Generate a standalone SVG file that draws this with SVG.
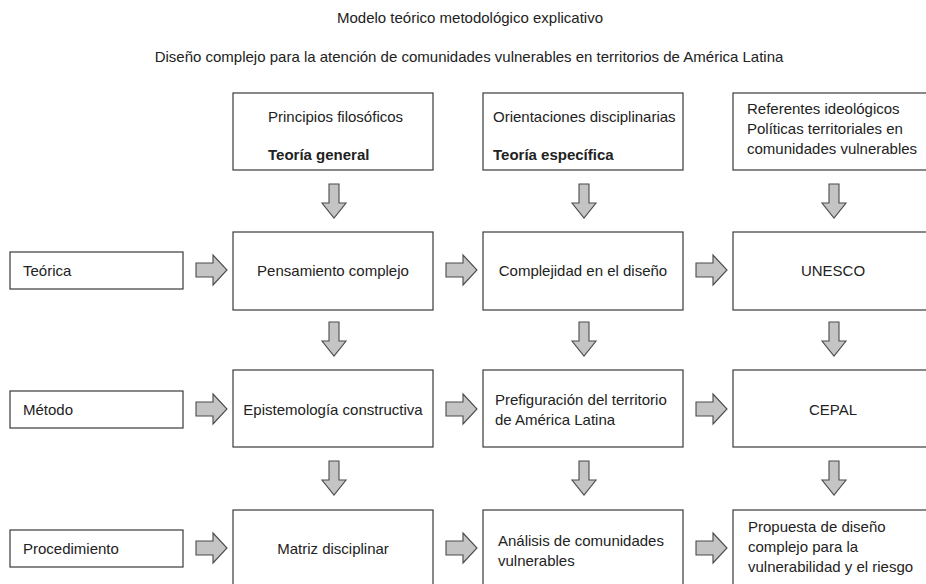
<svg xmlns="http://www.w3.org/2000/svg" width="926" height="584" viewBox="0 0 926 584">
<defs>
<style>
.box{fill:#fff;stroke:#3a3a3a;stroke-width:1.2}
.arr{fill:#c4c4c4;stroke:#4a4a4a;stroke-width:1.1;stroke-linejoin:miter}
text{font-family:"Liberation Sans",Arial,sans-serif;font-size:15px;fill:#222}
.c{text-anchor:middle}
.b{font-weight:bold}
</style>
<path id="down" d="M-5,0 H5 V19 H12 L0,34 L-12,19 H-5 Z"/>
<path id="right" d="M0,-7 H17 V-15 L31,0 L17,15 V7 H0 Z"/>
</defs>
<rect width="926" height="584" fill="#fff"/>
<g id="titles">
<text class="c" x="470" y="23">Modelo teórico metodológico explicativo</text>
<text class="c" x="469" y="62">Diseño complejo para la atención de comunidades vulnerables en territorios de América Latina</text>
</g>
<g id="connectors">
<use href="#down" class="arr" x="334" y="184"/>
<use href="#down" class="arr" x="584" y="184"/>
<use href="#down" class="arr" x="834" y="184"/>
<use href="#down" class="arr" x="334" y="322"/>
<use href="#down" class="arr" x="584" y="322"/>
<use href="#down" class="arr" x="834" y="322"/>
<use href="#down" class="arr" x="334" y="461"/>
<use href="#down" class="arr" x="584" y="461"/>
<use href="#down" class="arr" x="834" y="461"/>
<use href="#right" class="arr" x="196" y="270"/>
<use href="#right" class="arr" x="446" y="270"/>
<use href="#right" class="arr" x="696" y="270"/>
<use href="#right" class="arr" x="196" y="409"/>
<use href="#right" class="arr" x="446" y="409"/>
<use href="#right" class="arr" x="696" y="409"/>
<use href="#right" class="arr" x="196" y="548"/>
<use href="#right" class="arr" x="446" y="548"/>
<use href="#right" class="arr" x="696" y="548"/>
</g>
<g id="principios">
<rect class="box" x="233" y="93" width="200" height="77"/>
<text x="268" y="122">Principios filosóficos</text>
<text class="b" x="268" y="160">Teoría general</text>
</g>
<g id="orientaciones">
<rect class="box" x="483" y="93" width="200" height="77"/>
<text x="493" y="122">Orientaciones disciplinarias</text>
<text class="b" x="493" y="160">Teoría específica</text>
</g>
<g id="referentes">
<rect class="box" x="733" y="93" width="200" height="77"/>
<text x="747" y="114">Referentes ideológicos</text>
<text x="747" y="134">Políticas territoriales en</text>
<text x="747" y="154">comunidades vulnerables</text>
</g>
<g id="teorica">
<rect class="box" x="10" y="252" width="173" height="37"/>
<text x="23" y="276">Teórica</text>
</g>
<g id="pensamiento">
<rect class="box" x="233" y="232" width="200" height="78"/>
<text class="c" x="333" y="276">Pensamiento complejo</text>
</g>
<g id="complejidad">
<rect class="box" x="483" y="232" width="200" height="78"/>
<text class="c" x="583" y="276">Complejidad en el diseño</text>
</g>
<g id="unesco">
<rect class="box" x="733" y="232" width="200" height="78"/>
<text class="c" x="833" y="276">UNESCO</text>
</g>
<g id="metodo">
<rect class="box" x="10" y="391" width="173" height="37"/>
<text x="23" y="415">Método</text>
</g>
<g id="epistemologia">
<rect class="box" x="233" y="370" width="200" height="77"/>
<text class="c" x="333" y="415">Epistemología constructiva</text>
</g>
<g id="prefiguracion">
<rect class="box" x="483" y="370" width="200" height="77"/>
<text x="495" y="405">Prefiguración del territorio</text>
<text x="495" y="425">de América Latina</text>
</g>
<g id="cepal">
<rect class="box" x="733" y="370" width="200" height="77"/>
<text class="c" x="833" y="415">CEPAL</text>
</g>
<g id="procedimiento">
<rect class="box" x="10" y="530" width="173" height="37"/>
<text x="23" y="554">Procedimiento</text>
</g>
<g id="matriz">
<rect class="box" x="233" y="510" width="200" height="78"/>
<text class="c" x="333" y="554">Matriz disciplinar</text>
</g>
<g id="analisis">
<rect class="box" x="483" y="510" width="200" height="78"/>
<text x="498" y="546">Análisis de comunidades</text>
<text x="498" y="566">vulnerables</text>
</g>
<g id="propuesta">
<rect class="box" x="733" y="510" width="200" height="78"/>
<text x="748" y="532">Propuesta de diseño</text>
<text x="748" y="552">complejo para la</text>
<text x="748" y="572">vulnerabilidad y el riesgo</text>
</g>
</svg>
